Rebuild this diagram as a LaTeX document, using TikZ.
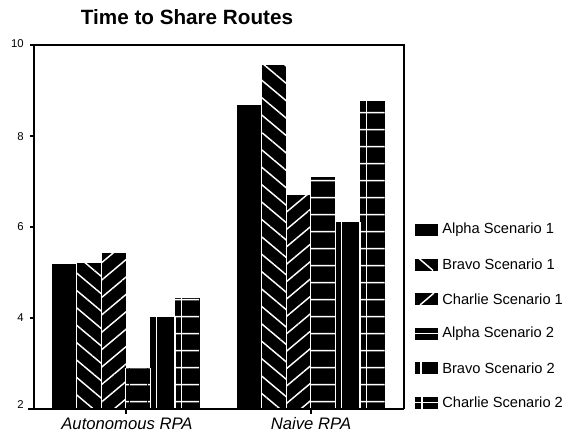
\documentclass[tikz,border=0pt]{standalone}
\usepackage{fontspec}
\setmainfont{Liberation Sans}
\usetikzlibrary{patterns.meta}

\tikzset{
  solidbar/.style={fill=black},
  backhatch/.style={preaction={fill=black}, pattern={Lines[angle=-40,distance=10pt,line width=1.1pt]}, pattern color=white},
  fwdhatch/.style={preaction={fill=black}, pattern={Lines[angle=40,distance=10pt,line width=1.1pt]}, pattern color=white},
  rowhatch/.style={preaction={fill=black}, pattern={Lines[angle=0,distance=13pt,line width=1.1pt]}, pattern color=white},
  gap/.style={draw=white, line width=0.8pt},
  whiteline/.style={draw=white, line width=1.1pt},
  axisline/.style={line width=1.1pt},
}

\begin{document}
\begin{tikzpicture}[x=0.75pt,y=0.75pt,yscale=-1,xscale=1]
\useasboundingbox (0,0) rectangle (578,435);

%Bars: Autonomous RPA
\fill[solidbar] (52,409) rectangle (76.6,264);
\path[backhatch] (76.6,409) rectangle (101.2,263);
\path[fwdhatch] (101.2,409) rectangle (125.8,253);
\path[rowhatch] (125.8,409) rectangle (150.4,368);
\fill[solidbar] (150.4,409) rectangle (175,317);
\draw[whiteline] (156.4,317) -- (156.4,409);
\path[rowhatch] (175,409) rectangle (199.6,298);
\draw[whiteline] (181.5,298) -- (181.5,409);
%Bar separators
\draw[gap] (76.6,263) -- (76.6,409);
\draw[gap] (101.2,253) -- (101.2,409);
\draw[gap] (125.8,368) -- (125.8,409);
\draw[gap] (150.4,368) -- (150.4,409);
\draw[gap] (175,317) -- (175,409);

%Bars: Naive RPA
\fill[solidbar] (237,409) rectangle (261.6,105);
\path[backhatch] (261.6,409) rectangle (286.2,65);
\path[fwdhatch] (286.2,409) rectangle (310.8,195);
\path[rowhatch] (310.8,409) rectangle (335.4,177);
\fill[solidbar] (335.4,409) rectangle (360,222);
\draw[whiteline] (341.4,222) -- (341.4,409);
\path[rowhatch] (360,409) rectangle (384.6,101);
\draw[whiteline] (366.5,101) -- (366.5,409);
%Bar separators
\draw[gap] (261.6,105) -- (261.6,409);
\draw[gap] (286.2,195) -- (286.2,409);
\draw[gap] (310.8,195) -- (310.8,409);
\draw[gap] (335.4,222) -- (335.4,409);
\draw[gap] (360,222) -- (360,409);

%Frame and axes
\draw[axisline] (34,45) -- (404,45) -- (404,409);
\draw[axisline] (34,45) -- (34,409);
\draw[axisline] (28,409) -- (404,409);
\draw[axisline] (30,45) -- (34,45);
\draw[axisline] (30,136) -- (34,136);
\draw[axisline] (30,227) -- (34,227);
\draw[axisline] (30,318) -- (34,318);
\draw[axisline] (125.8,409) -- (125.8,414);
\draw[axisline] (310.8,409) -- (310.8,414);

% Text Node
\draw (25,44) node [anchor=east][inner sep=0.75pt] (yten) {\fontsize{8.5}{10}\selectfont 10};
% Text Node
\draw (25,137) node [anchor=east][inner sep=0.75pt] (yeight) {\fontsize{8.5}{10}\selectfont 8};
% Text Node
\draw (25,227) node [anchor=east][inner sep=0.75pt] (ysix) {\fontsize{8.5}{10}\selectfont 6};
% Text Node
\draw (25,318) node [anchor=east][inner sep=0.75pt] (yfour) {\fontsize{8.5}{10}\selectfont 4};
% Text Node
\draw (25,405) node [anchor=east][inner sep=0.75pt] (ytwo) {\fontsize{8.5}{10}\selectfont 2};
% Text Node
\draw (127,424) node [inner sep=0.75pt] (autonomous) {\fontsize{12.5}{14}\selectfont\itshape Autonomous RPA};
% Text Node
\draw (311,424) node [inner sep=0.75pt] (naive) {\fontsize{12.5}{14}\selectfont\itshape Naive RPA};
% Text Node
\draw (187,17) node [inner sep=0.75pt] (title) {\fontsize{15.5}{18}\selectfont\bfseries Time to Share Routes};

%Legend swatches
\fill[solidbar] (415,224) rectangle (438,236);
\fill[solidbar] (415,258.5) rectangle (438,270.5);
\draw[whiteline] (419,258.5) -- (433,270.5);
\fill[solidbar] (415,293) rectangle (438,305);
\draw[whiteline] (420,305) -- (434,293);
\fill[solidbar] (415,327.5) rectangle (438,339.5);
\draw[whiteline] (415,333.5) -- (438,333.5);
\fill[solidbar] (415,362) rectangle (438,374);
\draw[whiteline] (421,362) -- (421,374);
\fill[solidbar] (415,396.5) rectangle (438,408.5);
\draw[whiteline] (415,402.5) -- (438,402.5);
\draw[whiteline] (422,396.5) -- (422,408.5);

% Text Node
\draw (441,230) node [anchor=west][inner sep=0.75pt] (legaone) {\fontsize{11}{13}\selectfont Alpha Scenario 1};
% Text Node
\draw (441,264.5) node [anchor=west][inner sep=0.75pt] (legbone) {\fontsize{11}{13}\selectfont Bravo Scenario 1};
% Text Node
\draw (441,299) node [anchor=west][inner sep=0.75pt] (legcone) {\fontsize{11}{13}\selectfont Charlie Scenario 1};
% Text Node
\draw (441,333.5) node [anchor=west][inner sep=0.75pt] (legatwo) {\fontsize{11}{13}\selectfont Alpha Scenario 2};
% Text Node
\draw (441,368) node [anchor=west][inner sep=0.75pt] (legbtwo) {\fontsize{11}{13}\selectfont Bravo Scenario 2};
% Text Node
\draw (441,402.5) node [anchor=west][inner sep=0.75pt] (legctwo) {\fontsize{11}{13}\selectfont Charlie Scenario 2};

\end{tikzpicture}
\end{document}
